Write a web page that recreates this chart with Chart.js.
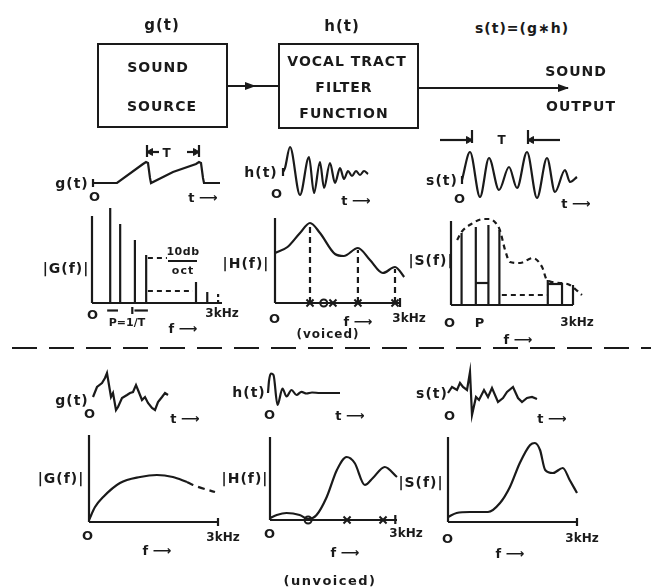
<!DOCTYPE html>
<html>
<head>
<meta charset="utf-8">
<script src="https://cdn.jsdelivr.net/npm/chart.js@4.4.1/dist/chart.umd.min.js"></script>
<style>
html, body { margin: 0; padding: 0; background: #fff; }
#page { position: relative; width: 651px; height: 588px; overflow: hidden; background: #fff;
        font-family: 'DejaVu Sans', sans-serif; font-weight: bold; color: #1a1a1a; }
.lbl { position: absolute; transform: translate(-50%, -50%); white-space: nowrap; line-height: 1; }
.box { position: absolute; border: 2px solid #1a1a1a; box-sizing: border-box; }
.hl { position: absolute; height: 2px; background: #1a1a1a; }
.head { position: absolute; width: 0; height: 0; border-top: 4px solid transparent;
        border-bottom: 4px solid transparent; border-left: 11px solid #1a1a1a; }
canvas { position: absolute; }
</style>
</head>
<body>
<div id="page"></div>
<script>
// ---------- data ----------
// x of time plots: arbitrary time units, y: amplitude (baseline = 0)
// x of spectra: frequency in kHz (0..3), y: magnitude

// voiced excitation g(t): glottal pulse train
const vgT = [0, 2.4, 5.0, 5.3, 5.5, 5.7, 5.8, 8.0, 10.3, 10.6, 10.8, 11.0, 11.1, 12.7];
const vgY = [0, 0, 1.9, 2.1, 2.0, 0.5, 0, 1.1, 1.9, 2.1, 2.0, 0.5, 0, 0];
const vgPeriod = [5.4, 10.6];

// voiced |G(f)|: harmonic lines
const vGF = [0.42, 0.65, 0.99, 1.25, 2.40, 2.66];
const vGA = [9.5, 7.9, 6.3, 4.8, 2.1, 1.1];
const vGSlopeF = [1.29, 1.73];
const vGSlopeA = [4.5, 4.5];
const vGFloorF = [1.29, 2.33];
const vGFloorA = [1.2, 1.2];

// voiced h(t): impulse response of the tract
const vhT = [0, 0.2, 0.7, 1.7, 2.6, 3.1, 3.7, 4.1, 4.7, 5.2, 5.7, 6.1, 6.5, 6.9, 7.3, 7.7, 8.1, 8.5];
const vhY = [0, 0.4, 2.5, -2.3, 1.5, -2.1, 1.0, -1.6, 0.9, -1.1, 0.4, -0.7, 0.1, -0.4, 0.1, -0.3, 0.1, -0.2];

// voiced |H(f)|
const vHF = [0, 0.3, 0.6, 0.84, 1.08, 1.44, 1.65, 1.99, 2.28, 2.59, 2.88, 3.1, 3.31];
const vHA = [5.0, 5.6, 7.0, 8.0, 7.0, 4.9, 4.7, 5.5, 4.3, 3.0, 3.6, 2.6, 1.5];
const vHFormF = [0.84, 1.99, 2.88];
const vHFormA = [7.7, 5.3, 3.4];
const vHPoles = [0.84, 1.39, 1.99, 2.88];
const vHZeros = [1.17];

// voiced s(t)
const vsT = [0, 0.8, 1.8, 2.7, 3.7, 4.7, 5.5, 6.5, 7.5, 8.5, 9.3, 10.3, 10.8, 11.5];
const vsY = [0, 2.8, -1.7, 2.2, -1.0, 1.3, -0.8, 2.8, -1.8, 2.2, -1.2, 1.0, -0.2, 0.3];
const vsPeriod = [1.0, 6.6];

// voiced |S(f)|
const vSF = [0.26, 0.61, 0.92, 1.19];
const vSA = [7.2, 7.8, 8.0, 7.5];
const vSEnvF = [0.15, 0.26, 0.5, 0.8, 0.95, 1.1, 1.2, 1.33, 1.45, 1.7, 2.01, 2.24, 2.36, 2.68, 2.92, 3.22];
const vSEnvA = [6.5, 7.3, 8.1, 8.6, 8.6, 8.2, 7.5, 5.5, 4.3, 4.2, 4.7, 3.8, 2.5, 2.2, 2.0, 1.0];
const vSHighF = [2.38, 2.73, 3.0];
const vSHighA = [2.5, 2.2, 2.0];

// unvoiced g(t): noise
const ugT = [0, 0.4, 0.9, 1.2, 1.4, 1.6, 1.8, 2.0, 2.3, 2.5, 2.9, 3.4, 3.7, 4.0, 4.3, 4.5, 4.9, 5.2, 5.5, 5.9, 6.2, 6.5, 6.9, 7.2, 7.5];
const ugY = [0.3, 1.3, 1.7, 2.2, 2.7, 1.5, 0.3, 0.7, -1.0, -0.7, 0.2, 0.5, 0.7, 0.8, 1.5, 1.0, 0, 0.3, -0.3, -0.8, -1.0, -0.2, 0.3, 0.7, 0.5];

// unvoiced |G(f)|
const uGF = [0, 0.14, 0.33, 0.72, 1.19, 1.58, 1.95, 2.28];
const uGA = [0.2, 1.5, 2.5, 3.9, 4.5, 4.7, 4.5, 4.0];
const uGTailF = [2.28, 2.42, 2.93];
const uGTailA = [4.0, 3.7, 3.0];

// unvoiced h(t)
const uhT = [0, 0.1, 0.3, 0.55, 0.95, 1.45, 1.85, 2.35, 2.85, 3.35, 3.85, 4.4, 5.2, 7.2];
const uhY = [0, 1.2, 1.95, 1.8, -1.2, 0.45, -0.35, 0.3, -0.2, 0.12, -0.05, 0.05, 0, 0];

// unvoiced |H(f)|
const uHF = [0, 0.16, 0.39, 0.7, 0.9, 1.1, 1.34, 1.58, 1.81, 2.0, 2.24, 2.43, 2.71, 3.0];
const uHA = [0.2, 0.5, 0.7, 0.5, 0.1, 0.5, 2.3, 5.0, 6.3, 5.7, 3.5, 4.2, 5.3, 4.3];
const uHPoles = [1.82, 2.67];
const uHZeros = [0.9];

// unvoiced s(t)
const usT = [0, 0.4, 0.9, 1.2, 1.5, 1.9, 2.2, 2.4, 2.8, 3.1, 3.6, 4.0, 4.4, 5.0, 5.5, 5.9, 6.5, 7.0, 7.4, 7.9, 8.4, 8.9];
const usY = [0, 0.6, 0.3, 1.0, 0.6, 0.3, 2.1, -2.2, -0.4, -0.7, 0.3, -0.4, 0.5, -0.9, -0.5, 0.1, 0.6, -0.5, -0.9, -0.5, -0.4, -0.6];

// unvoiced |S(f)|
const uSF = [0, 0.2, 0.51, 0.93, 1.21, 1.44, 1.67, 1.91, 2.02, 2.14, 2.26, 2.44, 2.67, 2.83, 3.0];
const uSA = [0.5, 0.9, 1.0, 1.0, 1.9, 3.5, 5.9, 7.7, 7.9, 7.2, 5.2, 4.9, 5.4, 4.2, 2.9];

// ---------- layout: origin in page px, px per unit, visible ranges ----------
const LAYOUT = {
  vg: {ox: 93,  oy: 183, sx: 10,   sy: 10, x: [-1, 13],  y: [-4, 4]},
  vG: {ox: 92,  oy: 303, sx: 43.3, sy: 10, x: [0, 3],    y: [0, 8.7]},
  vh: {ox: 283, oy: 172, sx: 10,   sy: 10, x: [-1, 9],   y: [-3, 3]},
  vH: {ox: 275, oy: 303, sx: 41.7, sy: 10, x: [0, 3],    y: [0, 8.5]},
  vs: {ox: 462, oy: 180, sx: 10,   sy: 10, x: [-3, 12],  y: [-3, 5]},
  vS: {ox: 451, oy: 305, sx: 40.7, sy: 10, x: [0, 3],    y: [0, 8.4]},
  ug: {ox: 93,  oy: 400, sx: 10,   sy: 10, x: [-1, 8],   y: [-3, 3]},
  uG: {ox: 89,  oy: 522, sx: 43,   sy: 10, x: [0, 3],    y: [0, 8.7]},
  uh: {ox: 268, oy: 393, sx: 10,   sy: 10, x: [-1, 8],   y: [-3, 3]},
  uH: {ox: 270, oy: 520, sx: 42.3, sy: 10, x: [0, 3],    y: [0, 8.3]},
  us: {ox: 448, oy: 393, sx: 10,   sy: 10, x: [-1, 9.5], y: [-3, 3]},
  uS: {ox: 448, oy: 522, sx: 43,   sy: 10, x: [0, 3],    y: [0, 8.5]}
};

const INK = '#1a1a1a';
const page = document.getElementById('page');

// ---------- helpers ----------
const zip = (xs, ys) => xs.map((x, i) => ({x, y: ys[i]}));
const SMOOTH = {cubicInterpolationMode: 'monotone'};
const DASH = {borderDash: [5, 4]};

function curve(xs, ys, extra) {
  return Object.assign({
    data: zip(xs, ys), showLine: true, pointRadius: 0, borderColor: INK,
    borderWidth: 2.2, tension: 0, clip: false
  }, extra || {});
}

function spikes(fs, as, extra) {
  return fs.map((f, i) => curve([f, f], [0, as[i]], extra));
}

function marks(xs, style, r) {
  return {
    data: xs.map(x => ({x, y: 0})), showLine: false, pointStyle: style,
    pointRadius: r, borderColor: INK, borderWidth: 2, backgroundColor: '#fff', clip: false
  };
}

function arrowHead(x, y, rot) {
  return {
    data: [{x, y}], showLine: false, pointStyle: 'triangle', pointRadius: 4,
    pointRotation: rot, backgroundColor: INK, borderColor: INK, borderWidth: 1, clip: false
  };
}

function axes(g) {
  return [curve([0, 0], [0, g.y[1]]), curve([0, 3], [0, 0])];
}

function panel(g, datasets) {
  const pad = 22;
  const left = g.ox + g.sx * g.x[0] - pad;
  const right = g.ox + g.sx * g.x[1] + pad;
  const top = g.oy - g.sy * g.y[1] - pad;
  const bottom = g.oy - g.sy * g.y[0] + pad;
  const c = document.createElement('canvas');
  c.width = Math.round(right - left);
  c.height = Math.round(bottom - top);
  c.style.left = left + 'px';
  c.style.top = top + 'px';
  page.appendChild(c);
  new Chart(c, {
    type: 'scatter',
    data: {datasets},
    options: {
      responsive: false,
      animation: false,
      events: [],
      layout: {padding: pad},
      plugins: {legend: {display: false}, tooltip: {enabled: false}},
      scales: {
        x: {type: 'linear', display: false, min: g.x[0], max: g.x[1]},
        y: {type: 'linear', display: false, min: g.y[0], max: g.y[1]}
      }
    }
  });
}

function txt(s, cx, cy, size, ls) {
  const d = document.createElement('div');
  d.className = 'lbl';
  d.textContent = s;
  d.style.left = cx + 'px';
  d.style.top = cy + 'px';
  d.style.fontSize = size + 'px';
  d.style.letterSpacing = (ls === undefined ? 1 : ls) + 'px';
  page.appendChild(d);
}

function rect(l, t, r, b) {
  const d = document.createElement('div');
  d.className = 'box';
  Object.assign(d.style, {left: l + 'px', top: t + 'px', width: (r - l) + 'px', height: (b - t) + 'px'});
  page.appendChild(d);
}

function hline(x1, x2, y, h) {
  const d = document.createElement('div');
  d.className = 'hl';
  Object.assign(d.style, {left: x1 + 'px', top: (y - 1) + 'px', width: (x2 - x1) + 'px', height: (h || 2) + 'px'});
  page.appendChild(d);
}

function head(x, y) {
  const d = document.createElement('div');
  d.className = 'head';
  Object.assign(d.style, {left: (x - 11) + 'px', top: (y - 4) + 'px'});
  page.appendChild(d);
}

// ---------- voiced row ----------
panel(LAYOUT.vg, [
  curve(vgT, vgY),
  curve([0, 0], [-0.4, 0.4]),
  curve([vgPeriod[0], vgPeriod[0]], [2.6, 3.8]),
  curve([vgPeriod[1], vgPeriod[1]], [2.6, 3.8]),
  curve([vgPeriod[0], vgPeriod[0] + 1.2], [3.1, 3.1]),
  curve([vgPeriod[1] - 1.2, vgPeriod[1]], [3.1, 3.1]),
  arrowHead(vgPeriod[0] + 0.35, 3.1, -90),
  arrowHead(vgPeriod[1] - 0.35, 3.1, 90)
]);

panel(LAYOUT.vG, [
  ...axes(LAYOUT.vG),
  ...spikes(vGF, vGA),
  curve(vGSlopeF, vGSlopeA, DASH),
  curve(vGFloorF, vGFloorA, DASH),
  curve([2.91, 2.91], [0, 1.2], {borderDash: [3, 3]}),
  curve([0.35, 0.6], [-0.75, -0.75]),
  arrowHead(0.58, -0.75, 90),
  curve([0.93, 0.93], [-0.4, -1.1]),
  curve([0.98, 1.29], [-0.75, -0.75]),
  arrowHead(1.0, -0.75, -90)
]);

panel(LAYOUT.vh, [
  curve(vhT, vhY, SMOOTH),
  curve([0, 0], [-0.4, 0.4])
]);

panel(LAYOUT.vH, [
  ...axes(LAYOUT.vH),
  curve(vHF, vHA, SMOOTH),
  ...spikes(vHFormF, vHFormA, {borderDash: [6, 4]}),
  marks(vHPoles, 'crossRot', 5),
  marks(vHZeros, 'circle', 3.5),
  curve([3, 3], [-0.4, 0.5])
]);

panel(LAYOUT.vs, [
  curve(vsT, vsY, SMOOTH),
  curve([0, 0], [-0.4, 0.4]),
  curve([vsPeriod[0], vsPeriod[0]], [3.7, 5.0]),
  curve([vsPeriod[1], vsPeriod[1]], [3.6, 5.0]),
  curve([-2.2, vsPeriod[0]], [4.0, 4.0]),
  curve([vsPeriod[1], 9.8], [4.0, 4.0]),
  arrowHead(vsPeriod[0] - 0.35, 4.0, 90),
  arrowHead(vsPeriod[1] + 0.35, 4.0, -90)
]);

panel(LAYOUT.vS, [
  ...axes(LAYOUT.vS),
  ...spikes(vSF, vSA),
  curve(vSEnvF, vSEnvA, Object.assign({}, SMOOTH, DASH)),
  curve([vSF[1], vSF[2]], [2.2, 2.2]),
  curve([1.25, 2.36], [1.0, 1.0], DASH),
  ...spikes(vSHighF, vSHighA),
  curve([vSHighF[0], vSHighF[1]], [2.1, 2.1])
]);

// ---------- unvoiced row ----------
panel(LAYOUT.ug, [curve(ugT, ugY)]);

panel(LAYOUT.uG, [
  ...axes(LAYOUT.uG),
  curve(uGF, uGA, SMOOTH),
  curve(uGTailF, uGTailA, Object.assign({}, SMOOTH, {borderDash: [7, 5]})),
  curve([3, 3], [-0.4, 0.4])
]);

panel(LAYOUT.uh, [curve(uhT, uhY, SMOOTH)]);

panel(LAYOUT.uH, [
  ...axes(LAYOUT.uH),
  curve(uHF, uHA, SMOOTH),
  marks(uHPoles, 'crossRot', 5),
  marks(uHZeros, 'circle', 3.5),
  curve([2.96, 2.96], [-0.4, 0.5])
]);

panel(LAYOUT.us, [curve(usT, usY)]);

panel(LAYOUT.uS, [
  ...axes(LAYOUT.uS),
  curve(uSF, uSA, SMOOTH),
  curve([3, 3], [-0.4, 0.4])
]);

// ---------- block diagram ----------
rect(97, 43, 228, 128);
rect(278, 43, 419, 129);
hline(228, 278, 86);
head(256, 86);
hline(419, 568, 88);
head(569, 88);

txt('g(t)', 162, 25, 15);
txt('h(t)', 342, 26, 15);
txt('s(t)=(g\u2217h)', 522, 28, 14);
txt('SOUND', 158, 67, 14);
txt('SOURCE', 162, 106, 14);
txt('VOCAL TRACT', 347, 61, 14);
txt('FILTER', 344, 87, 14);
txt('FUNCTION', 344, 113, 14);
txt('SOUND', 576, 71, 14);
txt('OUTPUT', 581, 106, 14);

// divider between voiced and unvoiced
const div = document.createElement('div');
Object.assign(div.style, {
  position: 'absolute', left: '12px', top: '347px', width: '639px', height: '2px',
  background: 'repeating-linear-gradient(to right, #1a1a1a 0 25px, transparent 25px 37px)'
});
page.appendChild(div);

// ---------- labels, voiced ----------
txt('T', 167, 153, 12);
txt('g(t)', 72, 183, 14);
txt('O', 95, 196, 13);
txt('t \u27F6', 203, 197, 13, 0);
txt('|G(f)|', 66, 268, 14);
txt('10db', 183, 251, 11, 0.5);
hline(168, 197, 261, 1.5);
txt('oct', 183, 270, 11, 1);
txt('O', 93, 314, 13);
txt('P=1/T', 127, 322, 11, 0);
txt('f \u27F6', 183, 328, 13, 0);
txt('3kHz', 222, 313, 12, 0);

txt('h(t)', 261, 172, 14);
txt('O', 277, 193, 13);
txt('t \u27F6', 356, 200, 13, 0);
txt('|H(f)|', 246, 263, 14);
txt('O', 275, 318, 13);
txt('3kHz', 409, 318, 12, 0);
txt('f \u27F6', 358, 321, 13, 0);
txt('(voiced)', 328, 334, 12, 1);

txt('T', 502, 140, 12);
txt('s(t)', 442, 180, 14);
txt('O', 460, 198, 13);
txt('t \u27F6', 576, 203, 13, 0);
txt('|S(f)|', 431, 260, 14);
txt('O', 450, 322, 13);
txt('P', 480, 322, 13);
txt('3kHz', 577, 322, 12, 0);
txt('f \u27F6', 518, 339, 13, 0);

// ---------- labels, unvoiced ----------
txt('g(t)', 72, 400, 14);
txt('O', 90, 413, 13);
txt('t \u27F6', 185, 418, 13, 0);
txt('|G(f)|', 61, 478, 14);
txt('O', 88, 535, 13);
txt('3kHz', 223, 537, 12, 0);
txt('f \u27F6', 157, 550, 13, 0);

txt('h(t)', 249, 392, 14);
txt('O', 270, 414, 13);
txt('t \u27F6', 350, 415, 13, 0);
txt('|H(f)|', 245, 478, 14);
txt('O', 270, 533, 13);
txt('3kHz', 406, 533, 12, 0);
txt('f \u27F6', 345, 552, 13, 0);
txt('(unvoiced)', 330, 580, 13, 1.5);

txt('s(t)', 432, 393, 14);
txt('O', 450, 415, 13);
txt('t \u27F6', 552, 418, 13, 0);
txt('|S(f)|', 421, 482, 14);
txt('O', 448, 538, 13);
txt('3kHz', 582, 538, 12, 0);
txt('f \u27F6', 510, 553, 13, 0);
</script>
</body>
</html>
